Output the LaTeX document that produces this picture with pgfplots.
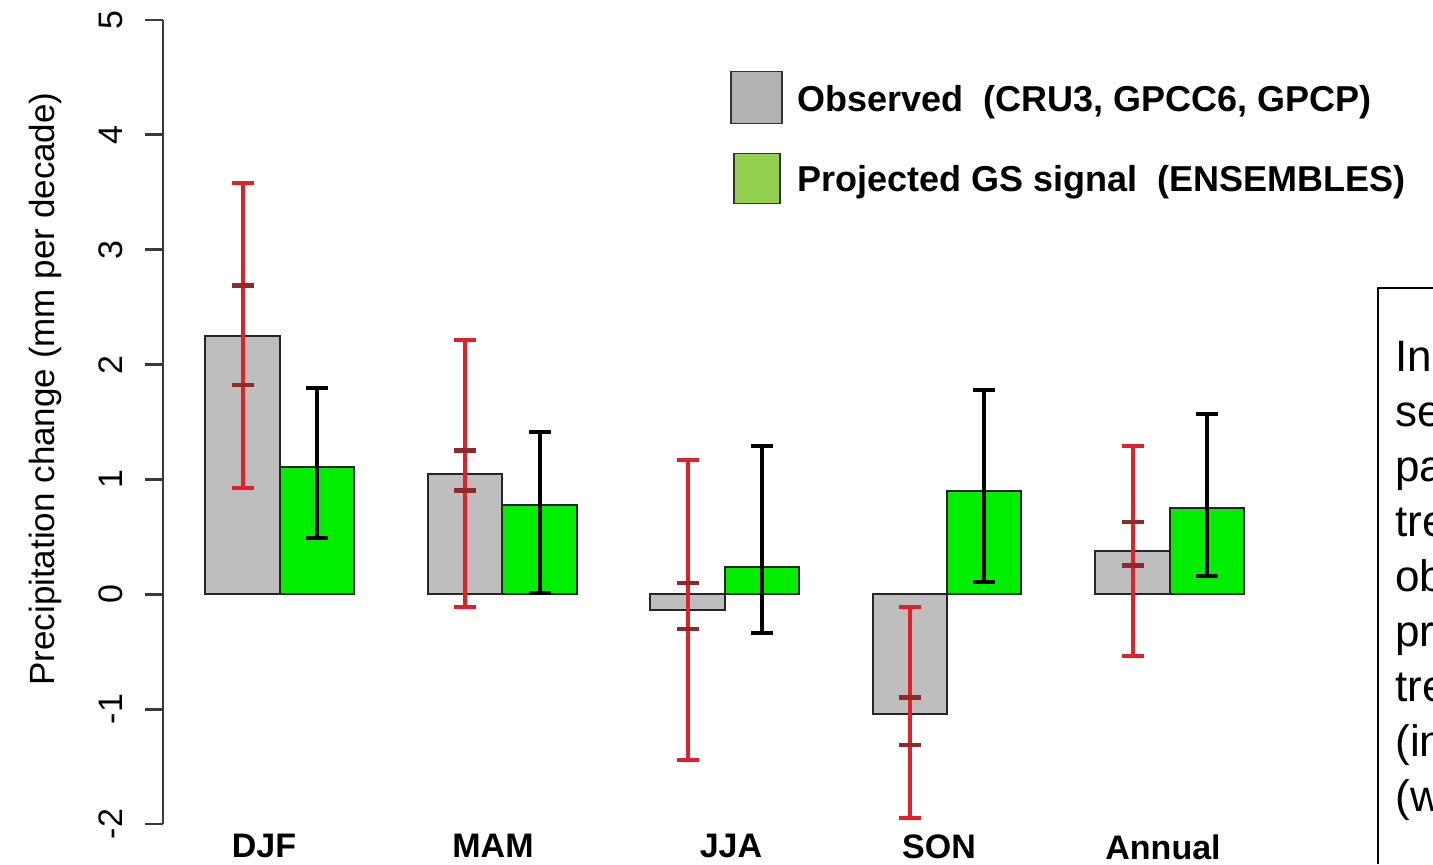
\documentclass[border=0pt]{standalone}
\usepackage{fontspec}
\setmainfont{Liberation Sans}
\usepackage{pgfplots}
\pgfplotsset{compat=1.18}
\definecolor{barGray}{HTML}{BEBEBE}
\definecolor{barGreen}{HTML}{00EE00}
\definecolor{legGray}{HTML}{B2B2B2}
\definecolor{legGreen}{HTML}{92D050}
\definecolor{errRed}{HTML}{E3202A}
\definecolor{midRed}{HTML}{8E2A2A}
\definecolor{axGray}{HTML}{3A3A3A}
\begin{document}
\begin{tikzpicture}
\begin{axis}[
  scale only axis, x=0.5pt, y=57.43pt,
  xmin=163, xmax=1433, ymin=-2, ymax=5,
  clip=false,
  axis lines*=left,
  x axis line style={draw=none},
  y axis line style={draw=axGray, line width=1.4pt},
  tick align=outside, major tick length=9pt,
  xtick={264,493,731,939,1163},
  xticklabels={DJF,MAM,JJA,SON,Annual},
  xtick style={draw=none},
  ytick={-2,-1,0,1,2,3,4,5},
  ytick style={draw=axGray, line width=1.4pt},
  /pgf/number format/assume math mode=true,
  yticklabel style={font=\fontsize{17}{17}\selectfont, xshift=-11pt, rotate=90, anchor=south, inner sep=0pt},
  xticklabel style={font=\bfseries\fontsize{17}{17}\selectfont, anchor=north, inner sep=0pt, yshift=4pt},
  ylabel={Precipitation change (mm per decade)},
  ylabel style={font=\fontsize{17.5}{17.5}\selectfont, at={(axis description cs:-0.0929,0.541)}, anchor=center, inner sep=0pt},
  legend style={at={(axis cs:730,4.562)}, anchor=north west, draw=none, fill=none, inner sep=0pt, row sep=14.2pt, font=\bfseries\fontsize{18}{18}\selectfont, nodes={inner sep=0pt}, /tikz/every even column/.append style={column sep=0pt}},
  legend cell align=left,
]
% Observed bars
\addplot[ybar, bar width=74.5, bar shift=0pt, fill=barGray, draw=black!85, line width=0.9pt,
  legend image code/.code={\path[draw=none, fill=none] (0pt,0pt) -- (33pt,0pt);
    \draw[fill=legGray, draw=black!80, line width=0.8pt] (0pt,-11.65pt) rectangle (25.5pt,14.35pt);}]
  coordinates {(242.5,2.25) (465,1.05) (687.5,-0.14) (910,-1.04) (1132.5,0.375)};
\addlegendentry{Observed\ \ (CRU3, GPCC6, GPCP)}
% Projected bars
\addplot[ybar, bar width=74.5, bar shift=0pt, fill=barGreen, draw=black!85, line width=0.9pt,
  legend image code/.code={\path[draw=none, fill=none] (0pt,0pt) -- (33pt,0pt);
    \draw[fill=legGreen, draw=black!80, line width=0.8pt] (1.5pt,-11.65pt) rectangle (24.5pt,13.35pt);}]
  coordinates {(317,1.11) (539.5,0.78) (762,0.235) (984,0.90) (1207,0.75)};
\addlegendentry{Projected GS signal\ \ (ENSEMBLES)}
% red ranges (observed)
\addplot[forget plot, draw=none, mark=none,
  error bars/.cd, y dir=both, y explicit,
  error bar style={draw=errRed, line width=2.2pt},
  error mark options={draw=none, mark size=0pt}]
  coordinates {
  (243,2.2525) +- (0,1.3275)
  (465,1.05) +- (0,1.16)
  (688,-0.135) +- (0,1.305)
  (910,-1.03) +- (0,0.92)
  (1133,0.375) +- (0,0.915)
  };
\addplot[forget plot, only marks, mark=-, mark size=5.5pt, mark options={draw=errRed, line width=2pt}]
  coordinates {(243,3.58) (243,0.925) (465,2.21) (465,-0.11) (688,1.17) (688,-1.44)
               (910,-0.11) (910,-1.95) (1133,1.29) (1133,-0.54)};
\addplot[forget plot, only marks, mark=-, mark size=5.5pt, mark options={draw=midRed, line width=2.2pt}]
  coordinates {(243,2.69) (243,1.82) (465,1.25) (465,0.905) (688,0.10) (688,-0.30)
               (910,-0.90) (910,-1.31) (1133,0.63) (1133,0.25)};
% black ranges (projected)
\addplot[forget plot, draw=none, mark=none,
  error bars/.cd, y dir=both, y explicit,
  error bar style={draw=black, line width=2pt},
  error mark options={draw=none, mark size=0pt}]
  coordinates {
  (317,1.145) +- (0,0.655)
  (539.5,0.7125) +- (0,0.6975)
  (762,0.475) +- (0,0.815)
  (984,0.945) +- (0,0.835)
  (1207,0.865) +- (0,0.705)
  };
\addplot[forget plot, only marks, mark=-, mark size=5.5pt, mark options={draw=black, line width=2pt}]
  coordinates {(317,1.80) (317,0.49) (539.5,1.41) (539.5,0.015) (762,1.29) (762,-0.34)
               (984,1.78) (984,0.11) (1207,1.57) (1207,0.16)};
\coordinate (BL) at (axis cs:0,-2.351);
\coordinate (TR) at (axis cs:1433,5.174);
\coordinate (boxTL) at (axis cs:1378,2.664);
\coordinate (txtTL) at (axis cs:1395,2.205);
\end{axis}
\begin{scope}
\clip (BL) rectangle (TR);
\draw[line width=0.9pt] (boxTL |- BL) -- (boxTL) -- (boxTL -| TR);
\node[anchor=north west, align=left, inner sep=0pt, font=\fontsize{22}{27.5}\selectfont] at (txtTL) {In\\se\\pa\\tre\\ob\\pr\\tre\\(in\\(w};
\end{scope}
\pgfresetboundingbox
\path[use as bounding box] (BL) rectangle (TR);
\end{tikzpicture}
\end{document}
